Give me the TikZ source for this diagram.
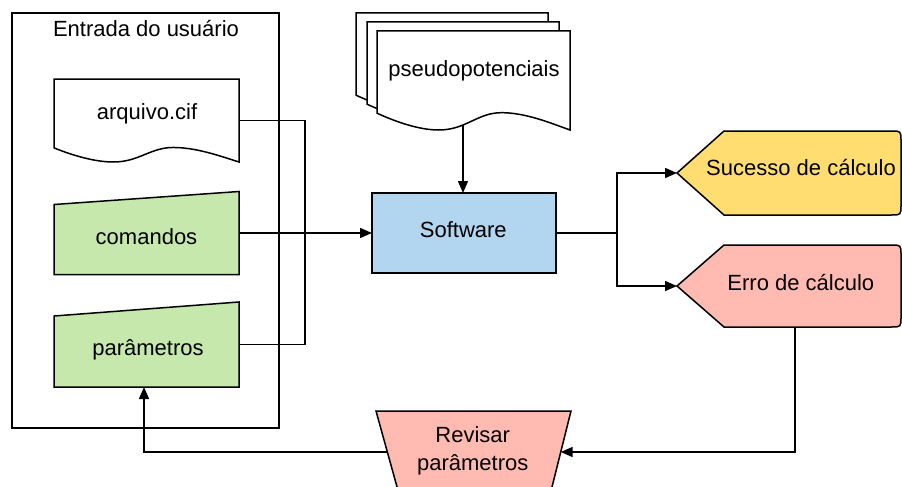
\documentclass[tikz,border=0pt]{standalone}
\usepackage{fontspec}
\setmainfont{Liberation Sans}
\usetikzlibrary{arrows.meta,calc}

\definecolor{inputgreen}{HTML}{C7E8AC}
\definecolor{swblue}{HTML}{B3D6F0}
\definecolor{okyellow}{HTML}{FFDD71}
\definecolor{errpink}{HTML}{FFBBB1}

\pgfdeclarelayer{wires}
\pgfsetlayers{wires,main}

% Document symbol with a wavy lower edge: #1,#2 top-left corner, #3 width, #4 depth, #5 fill
\newcommand\docshape[5]{%
  \begin{scope}[shift={(#1,#2)},xscale=#3,yscale=#4]
    \filldraw[outline,fill=#5] (0,0) -- (1,0) -- (1,1)
      .. controls (.9,.93) and (.77,.825) .. (.645,.825)
      .. controls (.52,.825) and (.46,1) .. (.32,1)
      .. controls (.22,1) and (.1,.92) .. (0,.83) -- cycle;
  \end{scope}}

\begin{document}
\begin{tikzpicture}[x=1pt,y=-1pt,
    outline/.style={draw=black,line width=1.5pt,line join=miter},
    slot/.style={inner sep=0pt,outer sep=0pt},
    txt/.style={font=\fontsize{22}{28.4}\selectfont,inner sep=0pt,anchor=base},
    wire/.style={draw=black,line width=1.5pt},
    arrow/.style={wire,-{Triangle[length=12pt,width=10pt]}}]

  \useasboundingbox (0,0) rectangle (902,487);

  % user input group
  \node[outline,slot,minimum width=267pt,minimum height=415pt] (frame) at (145.5,220.5) {};
  \node[txt] (title) at (146,36.7) {Entrada do usuário};

  % input file
  \node[slot,minimum width=185pt,minimum height=83pt] (arq) at (146.5,120.5) {};
  \docshape{54}{79}{185}{83}{white}
  \node[txt] (arqlabel) at (147,119.3) {arquivo.cif};

  % commands (manual input)
  \node[slot,minimum width=185pt,minimum height=83pt] (com) at (146.5,233) {};
  \filldraw[outline,fill=inputgreen] (com.south west) -- (com.south east)
    -- (com.north east) -- ([yshift=-13pt]com.north west) -- cycle;
  \node[txt] (comlabel) at (146.5,244) {comandos};

  % parameters (manual input)
  \node[slot,minimum width=185pt,minimum height=85pt] (par) at (146.5,344.5) {};
  \filldraw[outline,fill=inputgreen] (par.south west) -- (par.south east)
    -- (par.north east) -- ([yshift=-14pt]par.north west) -- cycle;
  \node[txt] (parlabel) at (148,355.7) {parâmetros};

  % pseudopotential files (stacked documents)
  \docshape{356}{13}{192}{99}{white}
  \docshape{367}{22}{192}{99}{white}
  \docshape{377}{31}{193}{99}{white}
  \node[txt] (pplabel) at (474,76.7) {pseudopotenciais};
  \coordinate (ppout) at (463,120);

  % software
  \node[outline,slot,fill=swblue,minimum width=184pt,minimum height=80pt] (sw) at (464,233) {};
  \node[txt] (swlabel) at (463.3,237.3) {Software};

  % outcomes (display shapes)
  \node[slot,minimum width=224pt,minimum height=84pt] (suc) at (789,173) {};
  \filldraw[outline,fill=okyellow] (suc.west) -- ($(suc.north west)+(47,0)$)
    -- ($(suc.north east)+(-10,0)$) .. controls (suc.north east) .. ($(suc.north east)+(0,10)$)
    -- ($(suc.south east)+(0,-10)$) .. controls (suc.south east) .. ($(suc.south east)+(-10,0)$)
    -- ($(suc.south west)+(47,0)$) -- cycle;
  \node[txt] (suclabel) at (801,175.7) {Sucesso de cálculo};

  \node[slot,minimum width=224pt,minimum height=82pt] (err) at (789,286) {};
  \filldraw[outline,fill=errpink] (err.west) -- ($(err.north west)+(47,0)$)
    -- ($(err.north east)+(-10,0)$) .. controls (err.north east) .. ($(err.north east)+(0,10)$)
    -- ($(err.south east)+(0,-10)$) .. controls (err.south east) .. ($(err.south east)+(-10,0)$)
    -- ($(err.south west)+(47,0)$) -- cycle;
  \node[txt] (errlabel) at (800.8,290) {Erro de cálculo};

  % revise parameters (manual operation)
  \filldraw[outline,fill=errpink] (376,411) -- (571,411) -- (551.5,489) -- (397.6,489) -- cycle;
  \node[txt,anchor=center,align=center] (revlabel) at (472.7,450.9) {Revisar\\parâmetros};
  \coordinate (revL) at (387.3,452);
  \coordinate (revR) at (560.7,452);

  % connectors
  \begin{pgfonlayer}{wires}
    \coordinate (join) at (305,233);
    \draw[wire] (arq.east) -| (join);
    \draw[wire] (par.east) -| (join);
    \draw[arrow] (com.east) -- (sw.west);
    \draw[arrow] (ppout) -- (ppout |- sw.north);
    \coordinate (split) at (617,233);
    \draw[wire] (sw.east) -- (split);
    \draw[arrow] (split) |- (suc.west);
    \draw[arrow] (split) |- (err.west);
    \coordinate (errout) at ([xshift=6pt]err.south);
    \draw[arrow] (errout) |- (revR);
    \draw[arrow] (revL) -| ([xshift=-2.5pt]par.south);
  \end{pgfonlayer}
\end{tikzpicture}
\end{document}
